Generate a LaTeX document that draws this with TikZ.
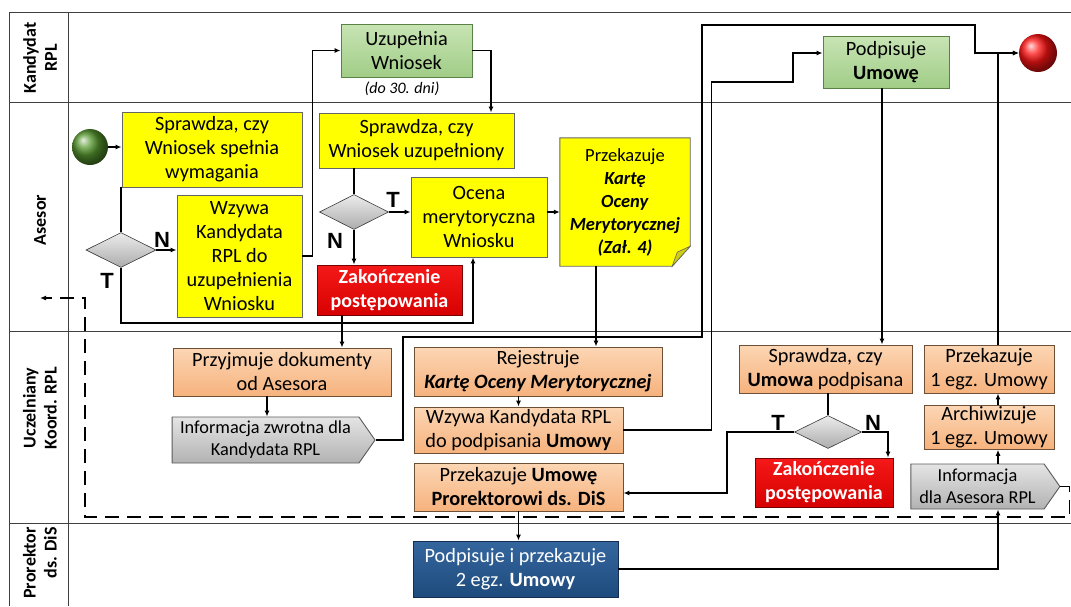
\documentclass[tikz,border=0pt]{standalone}
\usepackage{fontspec}
\setmainfont{Carlito}
\newfontfamily\labfont{Liberation Sans}
\usetikzlibrary{shapes.geometric,shapes.symbols,arrows.meta,backgrounds}

\definecolor{ylw}{RGB}{255,255,0}
\definecolor{ylwfold}{RGB}{205,205,20}
\definecolor{grnT}{RGB}{200,228,180}
\definecolor{grnB}{RGB}{160,205,135}
\definecolor{grnD}{RGB}{90,130,70}
\definecolor{orgT}{RGB}{252,214,180}
\definecolor{orgB}{RGB}{246,178,125}
\definecolor{orgD}{RGB}{110,80,55}
\definecolor{redT}{RGB}{245,25,25}
\definecolor{redB}{RGB}{215,0,0}
\definecolor{redD}{RGB}{120,0,0}
\definecolor{gryT}{RGB}{228,228,228}
\definecolor{gryB}{RGB}{178,178,178}
\definecolor{gryD}{RGB}{90,90,90}
\definecolor{bluT}{RGB}{52,102,158}
\definecolor{bluB}{RGB}{30,75,125}
\definecolor{bluD}{RGB}{20,45,80}

\begin{document}
\begin{tikzpicture}[x=1pt,y=-1pt,
  txt/.style={font=\fontsize{20.3}{24}\selectfont, align=center, inner sep=1pt},
  boxbase/.style={txt, rectangle, line width=0.9pt},
  ybox/.style={boxbase, fill=ylw, draw=black!60},
  gbox/.style={boxbase, top color=grnT, bottom color=grnB, draw=grnD},
  obox/.style={boxbase, top color=orgT, bottom color=orgB, draw=orgD},
  rbox/.style={boxbase, top color=redT, bottom color=redB, draw=redD, text=white,
               font=\fontsize{20}{24}\selectfont\bfseries},
  bbox/.style={boxbase, top color=bluT, bottom color=bluB, draw=bluD, text=white},
  infobox/.style={txt, signal, signal to=east, signal pointer angle=110,
                  top color=gryT, bottom color=gryB, draw=gryD, line width=0.9pt,
                  font=\fontsize{18.3}{22}\selectfont},
  notetext/.style={txt, font=\fontsize{18.5}{23}\selectfont},
  decision/.style={diamond, inner sep=0pt, top color=gray!15, bottom color=gray!65,
                   draw=gray!45!black, line width=0.6pt},
  arrowline/.style={line width=1.8pt, -{Latex[length=6pt,width=5pt]}},
  link/.style={line width=1.8pt},
  dashflow/.style={line width=1.8pt, dash pattern=on 14pt off 8pt,
                   -{Latex[length=6pt,width=5pt]}},
  lane/.style={line width=0.9pt, draw=black!75},
  lanetitle/.style={rotate=90, align=center, inner sep=0pt,
                    font=\fontsize{18}{21}\selectfont\bfseries},
  yn/.style={font=\labfont\fontsize{22}{22}\selectfont\bfseries, inner sep=0pt},
]
\useasboundingbox (0,0) rectangle (1071,606);
\clip (0,0) rectangle (1071,606);

% swimlane frame
\draw[lane] (9,606) -- (9,12) -- (1071,12);
\draw[lane] (68,12) -- (68,606);
\draw[lane] (9,102) -- (1071,102);
\draw[lane] (9,331) -- (1071,331);
\draw[lane] (9,523) -- (1071,523);

% lane titles
\node[lanetitle] (hK) at (40,58) {Kandydat\\RPL};
\node[lanetitle] (hA) at (40,220) {Asesor};
\node[lanetitle] (hU) at (40,408) {Uczelniany\\Koord. RPL};
\node[lanetitle, align=right, anchor=east] (hP) at (40,527) {Prorektor\\ds. DiS};

% start / end events
\node[circle, minimum size=36, inner sep=0pt, shading=ball,
      ball color={rgb,255:red,85;green,150;blue,45}] (start) at (90,147) {};
\node[circle, minimum size=38, inner sep=0pt, shading=ball,
      ball color={rgb,255:red,255;green,20;blue,20}] (end) at (1038,53) {};

% Kandydat RPL
\node[gbox, minimum width=131, minimum height=53] (u) at (406.5,50.5) {Uzupełnia\\Wniosek};
\node[font=\fontsize{16}{18}\selectfont\itshape, inner sep=0pt] (ut) at (402,89) {(do 30. dni)};
\node[gbox, minimum width=126, minimum height=52] (pu) at (886,62) {Podpisuje\\\textbf{Umowę}};

% Asesor
\node[ybox, minimum width=180, minimum height=75] (s1) at (212,149.5) {Sprawdza, czy\\Wniosek spełnia\\wymagania};
\node[decision, minimum width=70, minimum height=35] (d1) at (121,250) {};
\node[ybox, minimum width=125, minimum height=122] (w1) at (239.5,256) {Wzywa\\Kandydata\\RPL do\\uzupełnienia\\Wniosku};
\node[ybox, minimum width=195, minimum height=55] (s2) at (416.5,140.5) {Sprawdza, czy\\Wniosek uzupełniony};
\node[decision, minimum width=69, minimum height=35] (d2) at (354,212) {};
\node[ybox, minimum width=136, minimum height=80] (oc) at (479,217) {Ocena\\merytoryczna\\Wniosku};
\node[rbox, minimum width=145, minimum height=50] (z1) at (389.5,290) {Zakończenie\\postępowania};
\node[notetext, minimum width=130, minimum height=128] (card) at (625,202)
  {Przekazuje\\\textbf{\textit{Kartę}}\\\textbf{\textit{Oceny}}\\\textbf{\textit{Merytorycznej}}\\\textbf{\textit{(Zał. 4)}}};
\begin{scope}[on background layer]
  \filldraw[fill=ylw, draw=black!60, line width=0.9pt]
    (card.north west) -- (card.north east) -- ([yshift=20pt]card.south east)
    -- ([xshift=-18pt]card.south east) -- (card.south west) -- cycle;
  \filldraw[fill=ylwfold, draw=black!60, line width=0.6pt]
    ([yshift=20pt]card.south east) -- ([xshift=-18pt]card.south east)
    -- ([xshift=-13pt,yshift=14pt]card.south east) -- cycle;
\end{scope}

% Uczelniany Koordynator RPL
\node[obox, minimum width=218, minimum height=48] (pd) at (282,372) {Przyjmuje dokumenty\\od Asesora};
\node[infobox, minimum width=203, minimum height=46] (iz) at (265.5,440) {Informacja zwrotna dla\\Kandydata RPL};
\node[obox, minimum width=248, minimum height=49] (rk) at (538,371.5) {Rejestruje\\\textbf{\textit{Kartę Oceny Merytorycznej}}};
\node[obox, minimum width=209, minimum height=46] (wk) at (518.5,430) {Wzywa Kandydata RPL\\do podpisania \textbf{Umowy}};
\node[obox, minimum width=209, minimum height=48] (pum) at (518.5,487) {Przekazuje \textbf{Umowę}\\\textbf{Prorektorowi ds. DiS}};
\node[obox, minimum width=173, minimum height=48] (su) at (825.5,369) {Sprawdza, czy\\\textbf{Umowa} podpisana};
\node[decision, minimum width=67, minimum height=33] (d3) at (828,432) {};
\node[rbox, minimum width=138, minimum height=49] (z2) at (824,482.5) {Zakończenie\\postępowania};
\node[obox, minimum width=130, minimum height=48] (p1) at (989,369) {Przekazuje\\1 egz. Umowy};
\node[obox, minimum width=130, minimum height=41] (ar) at (989,427.5) {Archiwizuje\\1 egz. Umowy};
\node[infobox, minimum width=149, minimum height=45] (ia) at (977.5,486.5) {Informacja\\dla Asesora RPL};

% Prorektor ds. DiS
\node[bbox, minimum width=205, minimum height=56] (bl) at (515.5,569) {Podpisuje i przekazuje\\2 egz. \textbf{Umowy}};

% decision labels
\node[yn] (n1) at (162,240) {N};
\node[yn] (t1) at (107,281) {T};
\node[yn] (t2) at (393,200) {T};
\node[yn] (n2) at (335,241) {N};
\node[yn] (t3) at (778,423) {T};
\node[yn] (n3) at (873,423) {N};

\coordinate (back) at (40,298);

% connectors
\draw[arrowline] (start) -- (s1.west |- start);
\draw[link] (s1.south -| d1.north) -- (d1.north);
\draw[arrowline] (d1.east) -- (d1.east -| w1.west);
\draw[arrowline] (d1.south) -- ++(0,55) -| ([xshift=-6pt]oc.south);
\draw[arrowline] (w1.east) -- ++(10,0) |- (u.west);
\draw[arrowline] (u.east) -| ([xshift=74.5pt]s2.north);
\draw[link] (s2.south -| d2.north) -- (d2.north);
\draw[arrowline] (d2.east) -- (d2.east -| oc.west);
\draw[arrowline] (d2.south) -- (d2.south |- z1.north);
\draw[arrowline] (oc.east |- d2.east) -- (card.west |- d2.east);
\draw[arrowline] ([xshift=-29pt]card.south) -- ([xshift=-29pt]card.south |- rk.north);
\draw[arrowline] ([xshift=-47.5pt]z1.south) -- ([xshift=-47.5pt]z1.south |- pd.north);
\draw[arrowline] ([xshift=-15pt]pd.south) -- ([xshift=-15pt]pd.south |- iz.north);
\draw[arrowline] (wk.north |- rk.south) -- (wk.north);
\draw[arrowline] (iz.east) -- ++(27,0) |- (702,337) |- (975,25) |- (end.west);
\draw[arrowline] (wk.east) -- ++(88,0) |- (793,82) |- ([yshift=9pt]pu.west);
\draw[arrowline] ([xshift=-4pt]pu.south) -- ([xshift=-4pt]pu.south |- su.north);
\draw[link] (su.south -| d3.north) -- (d3.north);
\draw[arrowline] (d3.east) -| ([xshift=64pt]z2.north);
\draw[arrowline] (d3.west) -- ++(-67,0) |- ([yshift=-6pt]pum.east);
\draw[arrowline] (pum.south) -- (pum.south |- bl.north);
\draw[arrowline] (bl.east) -| ([xshift=9pt]ar.south |- ia.south);
\draw[arrowline] ([xshift=9pt]ar.south |- ia.north) -- ([xshift=9pt]ar.south);
\draw[arrowline] ([xshift=9pt]ar.north) -- ([xshift=9pt]ar.north |- p1.south);
\draw[arrowline] ([xshift=9pt]p1.north) |- (end.west);
\draw[dashflow] (ia.east) -- ++(9,0) |- (85,517) |- (back);
\end{tikzpicture}
\end{document}
